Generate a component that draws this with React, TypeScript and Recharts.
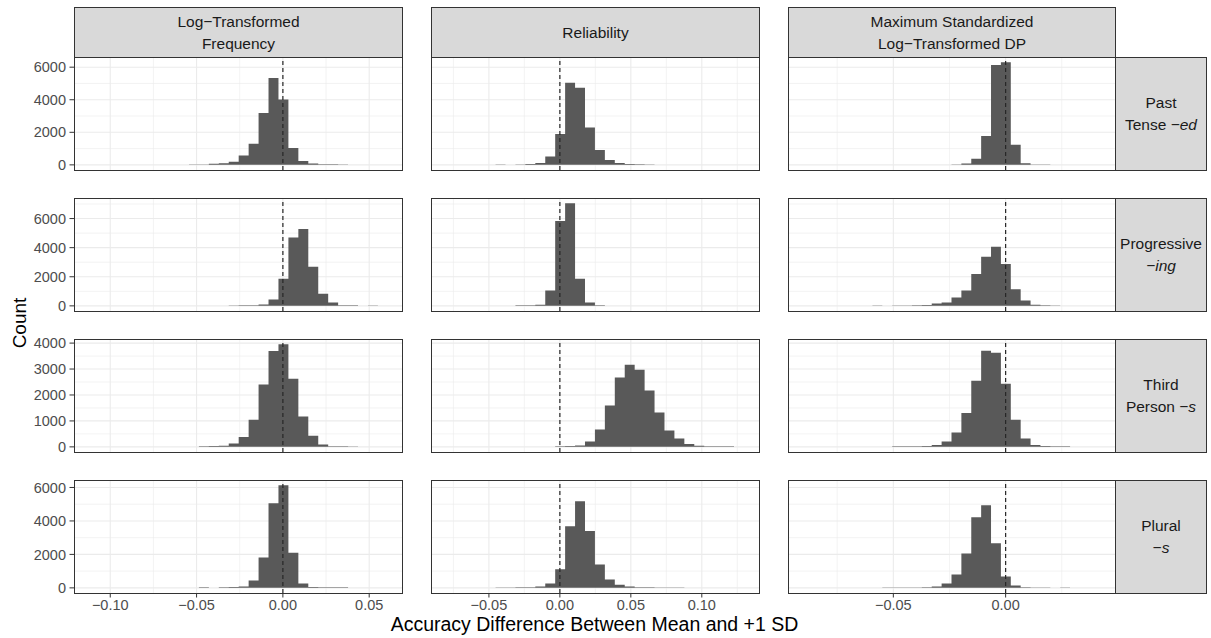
import React from 'react'
import { ComposedChart, Area, XAxis, YAxis, CartesianGrid, ReferenceLine } from 'recharts'

// facet labels
const colLabels = [['Log−Transformed', 'Frequency'], ['Reliability'], ['Maximum Standardized', 'Log−Transformed DP']]
const rowLabels = [
  { top: 'Past', bottom: 'Tense −', italic: 'ed' },
  { top: 'Progressive', bottom: '−', italic: 'ing' },
  { top: 'Third', bottom: 'Person −', italic: 's' },
  { top: 'Plural', bottom: '−', italic: 's' },
]

// histogram bins per column (left edge of first bin, bin width)
const binStart = [-0.0544, -0.0453, -0.0593]
const binWidth = [0.00576, 0.007, 0.0044]

// x scales per column
const xDomains: [number, number][] = [[-0.121, 0.069], [-0.0908, 0.1403], [-0.0969, 0.0487]]
const xTicks = [[-0.1, -0.05, 0, 0.05], [-0.05, 0, 0.05, 0.1], [-0.05, 0]]
const xMinor = [[-0.075, -0.025, 0.025], [-0.075, -0.025, 0.025, 0.075, 0.125], [-0.075, -0.025, 0.025]]

// y ticks per row
const yTicks = [[0, 2000, 4000, 6000], [0, 2000, 4000, 6000], [0, 1000, 2000, 3000, 4000], [0, 2000, 4000, 6000]]
const yMinor = [[1000, 3000, 5000], [1000, 3000, 5000, 7000], [500, 1500, 2500, 3500], [1000, 3000, 5000]]

// counts: Log-Transformed Frequency
const pastFreq = [30, 30, 70, 100, 185, 570, 1290, 3190, 5340, 4010, 1040, 245, 80, 40, 35, 30, 0, 0, 0]
const progFreq = [0, 0, 0, 0, 30, 35, 40, 90, 430, 1870, 4700, 5290, 2690, 840, 230, 40, 35, 0, 30]
const thirdFreq = [0, 25, 30, 40, 130, 385, 1050, 2400, 3700, 3960, 2630, 1170, 425, 90, 25, 20, 15, 0, 0]
const pluralFreq = [0, 40, 0, 40, 50, 80, 440, 1820, 5060, 6140, 2100, 260, 45, 40, 35, 30, 0, 0, 0]

// counts: Reliability
const pastRel = [30, 0, 30, 50, 120, 510, 1900, 5050, 4730, 2290, 920, 300, 120, 50, 35, 30, 0, 0, 0, 0, 0, 0, 0, 0]
const progRel = [0, 0, 35, 40, 70, 1050, 5840, 7060, 1870, 230, 35, 0, 0, 0, 0, 0, 0, 0, 0, 0, 0, 0, 0, 0]
const thirdRel = [0, 0, 0, 0, 0, 0, 25, 30, 50, 205, 665, 1590, 2670, 3170, 2975, 2170, 1320, 630, 320, 115, 40, 25, 20, 20]
const pluralRel = [25, 25, 30, 35, 80, 260, 1120, 3680, 5180, 3400, 1400, 500, 180, 80, 35, 30, 25, 25, 25, 0, 0, 0, 0, 0]

// counts: Maximum Standardized Log-Transformed DP
const pastDP = [0, 0, 0, 0, 0, 0, 0, 0, 30, 80, 370, 1780, 6140, 6310, 1230, 100, 30, 25, 0, 0]
const progDP = [30, 0, 25, 30, 35, 60, 160, 230, 570, 1050, 2190, 3370, 4060, 2870, 1140, 365, 70, 35, 25, 0]
const thirdDP = [0, 0, 20, 25, 25, 30, 75, 205, 550, 1310, 2550, 3705, 3630, 2435, 1050, 320, 75, 35, 25, 25]
const pluralDP = [0, 20, 25, 25, 25, 30, 80, 260, 800, 2060, 4220, 4940, 2660, 680, 140, 30, 25, 25, 0, 25]

const panelCounts = [
  [pastFreq, pastRel, pastDP],
  [progFreq, progRel, progDP],
  [thirdFreq, thirdRel, thirdDP],
  [pluralFreq, pluralRel, pluralDP],
]

const FONT = '"Liberation Sans", Arial, Helvetica, sans-serif'
const colLeft = [74, 431, 788]
const colWidth = [328, 328, 327]
const rowTop = [57, 198, 339, 480]
const rowHeight = 113
const yAxisW = 74
const xAxisH = 26
const pad = 9 // room so edge tick labels are not clipped

function toSteps(start: number, width: number, counts: number[]) {
  const rows = counts.map((c, i) => ({ x: start + i * width, count: c }))
  rows.push({ x: start + counts.length * width, count: 0 })
  return rows
}

const fmtX = (v: number) => (v < 0 ? '−' + Math.abs(v).toFixed(2) : v.toFixed(2))

function Panel({ row, col }: { row: number; col: number }) {
  const rowMax = Math.max(...panelCounts[row].map((c) => Math.max(...c)))
  const yDomain: [number, number] = [-0.05 * rowMax, 1.05 * rowMax]
  const showY = col === 0
  const showX = row === 3
  const left = showY ? colLeft[col] - yAxisW : colLeft[col]
  const width = colWidth[col] + (showY ? yAxisW : 0)
  const bottomPad = showX ? 0 : pad
  const height = pad + rowHeight + (showX ? xAxisH : 0) + bottomPad
  const data = toSteps(binStart[col], binWidth[col], panelCounts[row][col])

  return (
    <div style={{ position: 'absolute', left, top: rowTop[row] - pad, width, height }}>
      <ComposedChart width={width} height={height} data={data} margin={{ top: pad, right: 0, bottom: bottomPad, left: 0 }}>
        <CartesianGrid stroke="#EBEBEB" strokeWidth={0.6} horizontalValues={yMinor[row]} verticalValues={xMinor[col]} />
        <CartesianGrid stroke="#EBEBEB" strokeWidth={1.1} horizontalValues={yTicks[row]} verticalValues={xTicks[col]} />
        <XAxis
          type="number"
          dataKey="x"
          domain={xDomains[col]}
          ticks={xTicks[col]}
          allowDataOverflow
          interval={0}
          hide={!showX}
          height={xAxisH}
          axisLine={false}
          tickLine={{ stroke: '#333333' }}
          tickSize={4.5}
          tickMargin={2}
          tickFormatter={fmtX}
          tick={{ fill: '#4D4D4D', fontSize: 14.5, fontFamily: FONT }}
        />
        <YAxis
          type="number"
          domain={yDomain}
          ticks={yTicks[row]}
          allowDataOverflow
          interval={0}
          hide={!showY}
          width={yAxisW}
          axisLine={false}
          tickLine={{ stroke: '#333333' }}
          tickSize={4.5}
          tickMargin={3.5}
          tick={{ fill: '#4D4D4D', fontSize: 14.5, fontFamily: FONT }}
        />
        <Area
          type="stepAfter"
          dataKey="count"
          fill="#595959"
          fillOpacity={1}
          stroke="none"
          baseValue={0}
          dot={false}
          activeDot={false}
          isAnimationActive={false}
        />
        <ReferenceLine x={0} stroke="#262626" strokeWidth={1.2} strokeDasharray="4 3" />
      </ComposedChart>
    </div>
  )
}

export default function App() {
  return (
    <div style={{ position: 'absolute', left: 0, top: 0, width: 1211, height: 638, background: '#fff', fontFamily: FONT }}>
      {colLabels.map((lines, c) => (
        <div
          key={'cs' + c}
          style={{
            position: 'absolute', left: colLeft[c], top: 7, width: colWidth[c] + 1, height: 51,
            background: '#D9D9D9', border: '1px solid #333333', boxSizing: 'border-box',
            display: 'flex', flexDirection: 'column', justifyContent: 'center', alignItems: 'center',
            fontSize: 15.5, lineHeight: '22px', color: '#1A1A1A',
          }}
        >
          {lines.map((l) => <div key={l}>{l}</div>)}
        </div>
      ))}
      {rowLabels.map((r, i) => (
        <div
          key={'rs' + i}
          style={{
            position: 'absolute', left: colLeft[2] + colWidth[2], top: rowTop[i], width: 92, height: rowHeight + 1,
            background: '#D9D9D9', border: '1px solid #333333', boxSizing: 'border-box',
            display: 'flex', flexDirection: 'column', justifyContent: 'center', alignItems: 'center',
            fontSize: 15.5, lineHeight: '22px', color: '#1A1A1A',
          }}
        >
          <div>{r.top}</div>
          <div>{r.bottom}<i>{r.italic}</i></div>
        </div>
      ))}
      {rowTop.map((_, r) =>
        colLeft.map((__, c) => <Panel key={r + '-' + c} row={r} col={c} />)
      )}
      {rowTop.map((t, r) =>
        colLeft.map((l, c) => (
          <div
            key={'b' + r + c}
            style={{
              position: 'absolute', left: l, top: t, width: colWidth[c] + 1, height: rowHeight + 1,
              border: '1px solid #333333', boxSizing: 'border-box', pointerEvents: 'none',
            }}
          />
        ))
      )}
      <div style={{ position: 'absolute', left: 74, width: 1041, top: 613, textAlign: 'center', fontSize: 19.5, lineHeight: '22px', color: '#000' }}>
        Accuracy Difference Between Mean and +1 SD
      </div>
      <div
        style={{
          position: 'absolute', left: 20, top: 323, transform: 'translate(-50%, -50%) rotate(-90deg)',
          fontSize: 19, color: '#000', whiteSpace: 'nowrap',
        }}
      >
        Count
      </div>
    </div>
  )
}
